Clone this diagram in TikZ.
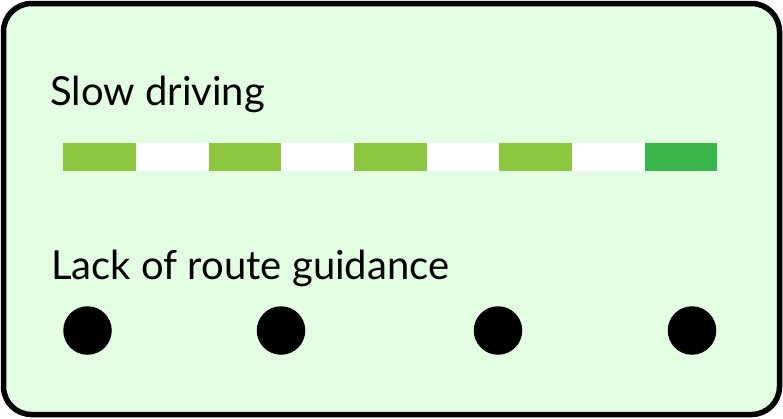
\documentclass[tikz,border=0pt]{standalone}
\usepackage{fontspec}
\setmainfont{Lato}
\usetikzlibrary{positioning}
\definecolor{panelfill}{RGB}{226,253,226}
\definecolor{slowgreen}{RGB}{141,198,63}
\definecolor{fastgreen}{RGB}{57,181,74}
\tikzstyle{panel}=[draw=black,
                   line width=5.5pt,
                   rounded corners=28pt,
                   fill=panelfill]
\tikzstyle{heading}=[anchor=base west,
                     inner sep=0pt,
                     font=\fontsize{40}{48}\selectfont]
\tikzstyle{segment}=[rectangle,
                     anchor=west,
                     inner sep=0pt,
                     minimum width=72.67pt,
                     minimum height=28pt]
\tikzstyle{stop}=[circle,
                  fill=black,
                  inner sep=0pt,
                  minimum size=48.5pt]

\begin{document}
\begin{tikzpicture}[x=1pt,y=-1pt]

  \useasboundingbox (0,0) rectangle (783,418);

  % Panel
  \draw[style=panel] (3.5,3.5) rectangle (779.5,414.5);

  % Nodes
  \node[heading] (slow) at (50,105) {Slow driving};
  \node[heading] (lack) at (51,279) {Lack of route guidance};

  \foreach \i/\c in {0/slowgreen,1/white,2/slowgreen,3/white,4/slowgreen,
                     5/white,6/slowgreen,7/white,8/fastgreen}
    \node[segment, fill=\c] (seg\i) at (63+\i*72.67,157) {};

  \node[stop] (stop1) at (87.5,330.5) {};
  \node[stop] (stop2) at (281,330.5) {};
  \node[stop] (stop3) at (498,330.5) {};
  \node[stop] (stop4) at (692,330.5) {};

\end{tikzpicture}
\end{document}
